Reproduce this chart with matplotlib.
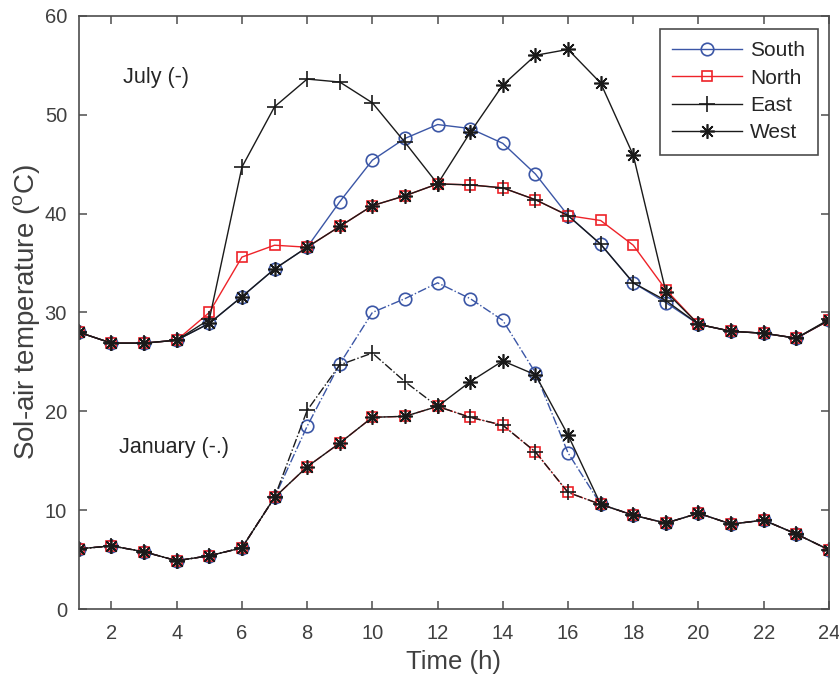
import matplotlib
matplotlib.use("Agg")
import matplotlib.pyplot as plt

plt.rcParams["font.family"] = ["Liberation Sans", "DejaVu Sans"]
plt.rcParams["mathtext.fontset"] = "custom"
plt.rcParams["mathtext.rm"] = "Liberation Sans"

hours = list(range(1, 25))

# July sol-air temperature by facade orientation (degC)
jul_south = [28.0, 26.9, 26.9, 27.2, 28.9, 31.6, 34.4, 36.6, 41.2, 45.4, 47.6, 49.0,
             48.6, 47.1, 44.0, 39.8, 36.9, 33.0, 31.0, 28.8, 28.1, 27.9, 27.4, 29.2]
jul_north = [28.0, 26.9, 26.9, 27.2, 30.0, 35.6, 36.8, 36.6, 38.7, 40.8, 41.8, 43.0,
             42.9, 42.6, 41.4, 39.8, 39.3, 36.8, 32.3, 28.8, 28.1, 27.9, 27.4, 29.2]
jul_east = [28.0, 26.9, 26.9, 27.2, 29.3, 44.7, 50.8, 53.6, 53.3, 51.2, 47.2, 43.0,
            42.9, 42.6, 41.4, 39.8, 36.9, 33.0, 31.2, 28.8, 28.1, 27.9, 27.4, 29.3]
jul_west = [28.0, 26.9, 26.9, 27.2, 28.9, 31.6, 34.4, 36.6, 38.7, 40.8, 41.8, 43.0,
            48.2, 53.0, 56.0, 56.6, 53.2, 45.9, 32.1, 28.8, 28.1, 27.9, 27.4, 29.2]

# January
jan_south = [6.1, 6.4, 5.8, 4.9, 5.4, 6.2, 11.3, 18.5, 24.8, 30.0, 31.4, 33.0,
             31.4, 29.2, 23.9, 15.8, 10.6, 9.5, 8.7, 9.7, 8.6, 9.0, 7.6, 6.0]
jan_north = [6.1, 6.4, 5.8, 4.9, 5.4, 6.2, 11.3, 14.4, 16.8, 19.4, 19.5, 20.5,
             19.4, 18.6, 15.9, 11.8, 10.6, 9.5, 8.7, 9.7, 8.6, 9.0, 7.6, 6.0]
jan_east = [6.1, 6.4, 5.8, 4.9, 5.4, 6.2, 11.3, 20.1, 24.7, 25.9, 23.0, 20.5,
            19.4, 18.6, 15.9, 11.8, 10.6, 9.5, 8.7, 9.7, 8.6, 9.0, 7.6, 6.0]
jan_west = [6.1, 6.4, 5.8, 4.9, 5.4, 6.2, 11.3, 14.4, 16.8, 19.4, 19.5, 20.5,
            23.0, 25.1, 23.7, 17.6, 10.6, 9.5, 8.7, 9.7, 8.6, 9.0, 7.6, 6.0]

BLUE = "#3b56a6"
RED = "#ee2329"
BLACK = "#1a1a1a"
AXCOL = "#4d4d4d"
ASTERISK = (8, 2, 0)

styles = {
    "South": dict(color=BLUE, marker="o", ms=9, mfc="none"),
    "North": dict(color=RED, marker="s", ms=7.8, mfc="none"),
    "East": dict(color=BLACK, marker="+", ms=12),
    "West": dict(color=BLACK, marker=ASTERISK, ms=10.5),
}

fig = plt.figure(figsize=(8.39, 6.86), dpi=100)
ax = fig.add_axes([0.094, 0.112, 0.894, 0.865])

july = {"South": jul_south, "North": jul_north, "East": jul_east, "West": jul_west}
jan = {"South": jan_south, "North": jan_north, "East": jan_east, "West": jan_west}
jan_ls = {"South": "-.", "North": "-.", "East": "-.", "West": "-"}

for name, vals in july.items():
    ax.plot(hours, vals, ls="-", lw=1.0, mew=1.2, label=name, **styles[name])
for name, vals in jan.items():
    ax.plot(hours, vals, ls=jan_ls[name], lw=1.0, mew=1.2, **styles[name])

ax.text(2.35, 53.8, "July (-)", fontsize=15.5, color="#262626", va="center")
ax.text(2.22, 16.3, "January (-.)", fontsize=15.5, color="#262626", va="center")

ax.set_xlim(1, 24)
ax.set_ylim(0, 60)
ax.set_xticks(range(2, 25, 2))
ax.set_yticks(range(0, 61, 10))
ax.tick_params(direction="in", top=True, right=True, length=6, width=1.1,
               colors=AXCOL, labelsize=14.5, labelcolor="#404040")
ax.tick_params(axis="x", pad=11)
ax.tick_params(axis="y", pad=8.5)
for sp in ax.spines.values():
    sp.set_color(AXCOL)
    sp.set_linewidth(1.2)

ax.set_xlabel("Time (h)", fontsize=18.5, color="#404040", labelpad=5)
ax.set_ylabel("Sol-air temperature ($^{\\rm o}$C)", fontsize=20, color="#404040",
              labelpad=1)

leg = ax.legend(loc="upper right", bbox_to_anchor=(0.9853, 0.978), borderaxespad=0,
                fontsize=15, handlelength=3.36, fancybox=False, framealpha=1,
                edgecolor=AXCOL, borderpad=0.6, labelspacing=0.4,
                handletextpad=0.38)
leg.get_frame().set_linewidth(1.2)
for t in leg.get_texts():
    t.set_color("#262626")

fig.savefig("out.png", dpi=100)
